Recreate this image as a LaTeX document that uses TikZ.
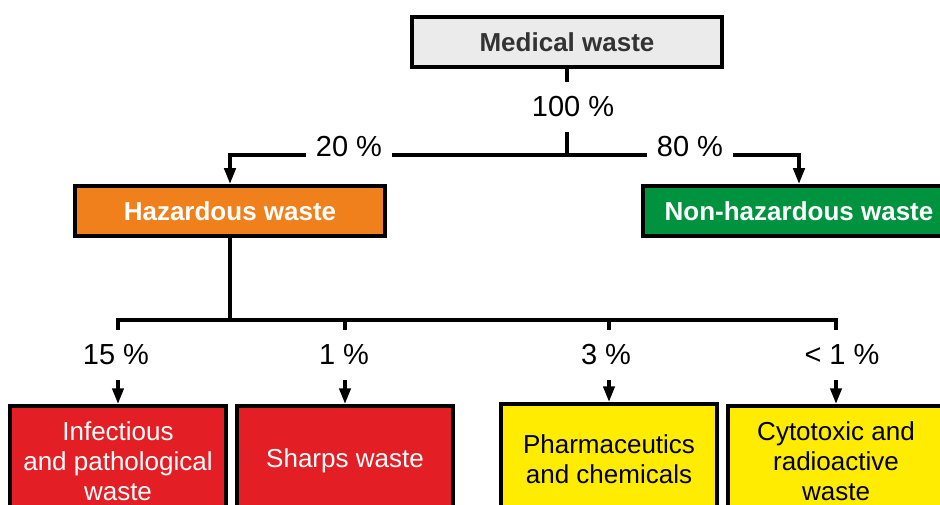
\documentclass[tikz,border=0pt]{standalone}
\usepackage{fontspec}
\setmainfont{Liberation Sans}
\usetikzlibrary{arrows.meta}
\definecolor{medgray}{HTML}{EBEBEB}
\definecolor{hazorange}{HTML}{EF801C}
\definecolor{safegreen}{HTML}{00933F}
\definecolor{riskred}{HTML}{E31E25}
\definecolor{chemyellow}{HTML}{FFEC00}
\tikzstyle{bigfont} = [font=\fontsize{26}{30}\selectfont]
\tikzstyle{topbox} = [rectangle,
font=\fontsize{26}{30}\selectfont\bfseries,
minimum width=310pt,
minimum height=50pt,
text centered,
line width=3.5pt,
draw=black]
\tikzstyle{leafbox} = [rectangle, bigfont,
minimum width=216pt,
minimum height=110pt,
align=center,
line width=3.5pt,
draw=black]
\tikzstyle{pct} = [font=\fontsize{29}{33}\selectfont, inner xsep=10pt, minimum height=50pt]
\tikzstyle{line} = [line width=4pt]
\tikzstyle{arrow} = [line width=4pt,-{Triangle[length=16pt,width=11pt]}]

\begin{document}
\begin{tikzpicture}[x=1pt,y=-1pt]
\useasboundingbox (0,0) rectangle (940,505);

\node (med) [topbox, fill=medgray, text=black!80] at (567,42) {Medical waste};
\node (p100) [pct] at (573,107) {100 \%};
\coordinate (split) at (567,155);
\node (p20) [pct] at (349,147) {20 \%};
\node (p80) [pct] at (690,147) {80 \%};
\node (haz) [topbox, fill=hazorange, text=white] at (230,211) {Hazardous waste};
\node (nonhaz) [topbox, minimum width=312pt, fill=safegreen, text=white] at (799,211) {Non-hazardous waste};
\coordinate (hsplit) at (230,320);

% percentages of hazardous waste
\node (p15) [pct] at (116,355) {15 \%};
\node (p1) [pct] at (344,355) {1 \%};
\node (p3) [pct] at (606,355) {3 \%};
\node (plt1) [pct] at (842,355) {< 1 \%};

\node (inf) [leafbox, fill=riskred, text=white] at (118,461) {Infectious\\and pathological\\waste};
\node (sha) [leafbox, fill=riskred, text=white] at (345,461) {Sharps waste};
\node (pha) [leafbox, fill=chemyellow] at (609,459) {Pharmaceutics\\and chemicals};
\node (cyt) [leafbox, fill=chemyellow] at (836,461) {Cytotoxic and\\radioactive\\waste};

\draw [line] (med.south) -- (med.south |- p100.north);
\draw [line] (med.south |- p100.south) -- (split);
\draw [line] (split) -- (split -| p20.east);
\draw [arrow] (split -| p20.west) -| (haz.north);
\draw [line] (split) -- (split -| p80.west);
\draw [arrow] (split -| p80.east) -| (nonhaz.north);

\draw [line] (haz.south) -- (hsplit);
\draw [line] (inf.north |- p15.north) -- (inf.north |- hsplit) -- (cyt.north |- hsplit) -- (cyt.north |- plt1.north);
\draw [line] (sha.north |- p1.north) -- (sha.north |- hsplit);
\draw [line] (pha.north |- p3.north) -- (pha.north |- hsplit);
\foreach \b/\p in {inf/p15, sha/p1, pha/p3, cyt/plt1}
  \draw [arrow] (\b.north |- \p.south) -- (\b.north);

\end{tikzpicture}
\end{document}
